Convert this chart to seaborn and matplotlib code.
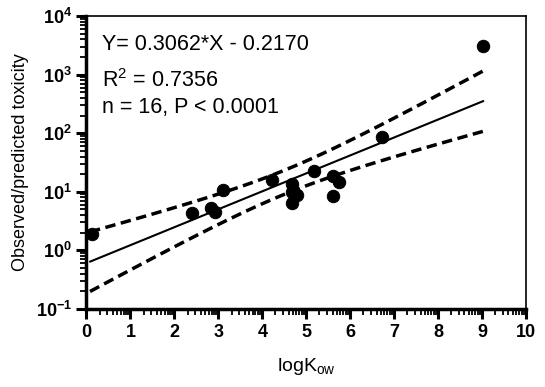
import numpy as np
import pandas as pd
import matplotlib
matplotlib.use('Agg')
import matplotlib.pyplot as plt
import seaborn as sns
from matplotlib.ticker import NullFormatter

# data
log_kow = [0.12, 2.39, 2.83, 2.92, 3.11, 4.23, 4.68, 4.68, 4.78, 4.68,
           5.18, 5.62, 5.75, 5.62, 6.72, 9.03]
log_tox = [0.275, 0.643, 0.73, 0.65, 1.03, 1.20, 1.13, 1.00, 0.95, 0.81,
           1.36, 1.275, 1.16, 0.93, 1.93, 3.48]
slope = 0.3062
intercept = -0.2170
t_crit = 2.1448  # t(0.975, df=14)

df = pd.DataFrame({'x': log_kow, 'y': np.power(10, log_tox)})

# regression line + 95% CI of the mean (log10 space)
x = np.array(log_kow)
ly = np.array(log_tox)
n = len(x)
resid = ly - (slope * x + intercept)
s = np.sqrt(np.sum(resid ** 2) / (n - 2))
sxx = np.sum((x - x.mean()) ** 2)
xf = np.linspace(x.min() - 0.04, x.max(), 100)
yf = slope * xf + intercept
half = t_crit * s * np.sqrt(1 / n + (xf - x.mean()) ** 2 / sxx)
fit = pd.DataFrame({'x': xf, 'fit': 10 ** yf, 'lo': 10 ** (yf - half), 'hi': 10 ** (yf + half)})

sns.set_style('ticks', {'axes.edgecolor': 'black', 'text.color': 'black',
                        'axes.labelcolor': 'black', 'xtick.color': 'black', 'ytick.color': 'black'})
plt.rcParams['font.family'] = ['Liberation Sans', 'DejaVu Sans']
plt.rcParams['mathtext.fontset'] = 'custom'
plt.rcParams['mathtext.rm'] = 'Liberation Sans'
plt.rcParams['mathtext.bf'] = 'Liberation Sans:bold'

fig = plt.figure(figsize=(5.45, 3.87), dpi=100)
ax = fig.add_axes([0.1587, 0.2016, 0.8063, 0.7571])

sns.lineplot(data=fit, x='x', y='fit', color='black', lw=1.5, ax=ax)
sns.lineplot(data=fit, x='x', y='lo', color='black', lw=2.5, ax=ax)
sns.lineplot(data=fit, x='x', y='hi', color='black', lw=2.5, ax=ax)
for l in ax.lines[1:]:
    l.set_linestyle((0, (3, 1.6)))
sns.scatterplot(data=df, x='x', y='y', color='black', s=80, edgecolor='black', zorder=5, ax=ax)

ax.set_yscale('log')
ax.set_xlim(0, 10)
ax.set_ylim(0.1, 1e4)

ax.set_xticks(range(0, 11))
ax.set_xticklabels([str(i) for i in range(0, 11)], fontweight='bold', fontsize=13)
ax.set_xticks([i + np.log10(k) for i in range(10) for k in range(2, 10)], minor=True)
yt = [1e-1, 1e0, 1e1, 1e2, 1e3, 1e4]
ax.set_yticks(yt)
ax.set_yticklabels([r'$\mathbf{10^{%d}}$' % e for e in range(-1, 5)], fontsize=13)
ax.set_yticks([k * 10.0 ** e for e in range(-1, 4) for k in range(2, 10)], minor=True)
ax.yaxis.set_minor_formatter(NullFormatter())

ax.tick_params(which='major', length=7, width=2.2, color='black', labelcolor='black')
ax.tick_params(which='minor', length=4.5, width=1.3, color='black')
for side in ['left', 'bottom']:
    ax.spines[side].set_linewidth(2.5)
for side in ['top', 'right']:
    ax.spines[side].set_linewidth(1.2)

ax.set_xlabel(r'logK$_{\mathregular{ow}}$', fontsize=14, color='black')
ax.set_ylabel('Observed/predicted toxicity', fontsize=13, color='black')
ax.xaxis.set_label_coords(0.5, -0.16)
ax.yaxis.set_label_coords(-0.13, 0.5)

ax.text(0.035, 0.904, 'Y= 0.3062*X - 0.2170', transform=ax.transAxes, fontsize=15.5, va='center', color='black')
ax.text(0.035, 0.778, r'R$^{\mathregular{2}}$ = 0.7356', transform=ax.transAxes, fontsize=15.5, va='center', color='black')
ax.text(0.035, 0.686, 'n = 16, P < 0.0001', transform=ax.transAxes, fontsize=15.5, va='center', color='black')

fig.savefig('out.png', dpi=100)
